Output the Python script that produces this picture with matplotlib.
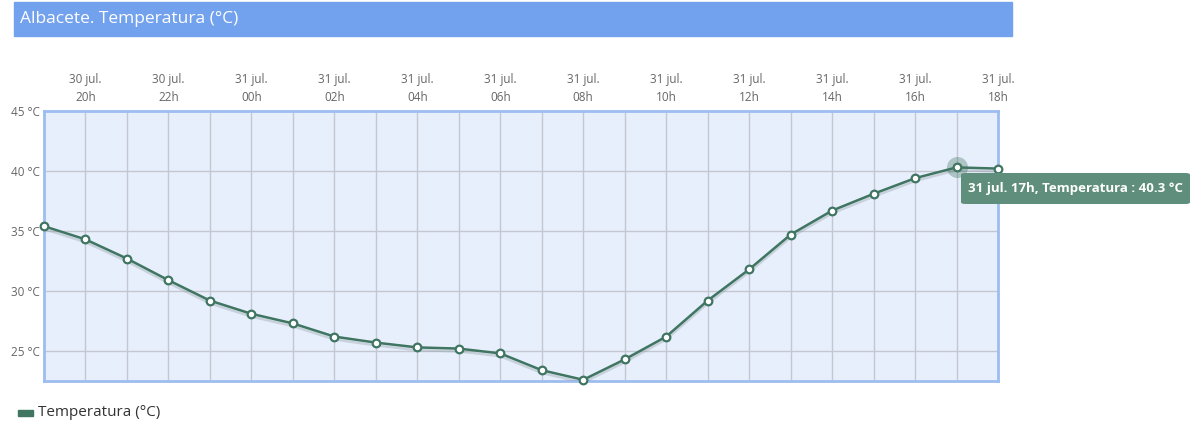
"""Albacete temperature, last 24 h (line chart with tooltip)."""

import numpy as np
import matplotlib
matplotlib.use("Agg")
import matplotlib.pyplot as plt
import matplotlib.patheffects as pe
from matplotlib.patches import Rectangle, FancyBboxPatch

plt.rcParams["font.family"] = ["Open Sans", "DejaVu Sans"]

# ── data ────────────────────────────────────────────────────────────────
HOURS = ["19h", "20h", "21h", "22h", "23h", "00h", "01h", "02h", "03h", "04h",
         "05h", "06h", "07h", "08h", "09h", "10h", "11h", "12h", "13h", "14h",
         "15h", "16h", "17h", "18h"]
DAYS = ["30 jul."] * 5 + ["31 jul."] * 19
TEMPS = [35.4, 34.3, 32.7, 30.9, 29.2, 28.1, 27.3, 26.2, 25.7, 25.3,
         25.2, 24.8, 23.4, 22.6, 24.3, 26.2, 29.2, 31.8, 34.7, 36.7,
         38.1, 39.4, 40.3, 40.2]
Y_TICKS = [25, 30, 35, 40, 45]
HILITE = 22  # index of the hovered point (17h)

LINE = "#3f7561"
PLOT_BG = "#e8effc"
BORDER = "#9dbdf0"
GRID = "#c3c7d1"
TEXT = "#666666"
TITLE_BG = "#72a1ee"
TIP_BG = "#5f8f7c"

fig = plt.figure(figsize=(12, 4.21), dpi=100)
W, H = 1200, 421

# title bar
fig.patches.append(Rectangle((14 / W, 1 - 36 / H), 998 / W, 34 / H,
                             transform=fig.transFigure, color=TITLE_BG, zorder=0))
fig.text(20 / W, 1 - 19 / H, "Albacete. Temperatura (°C)", color="white",
         fontsize=12.5, va="center", ha="left")

ax = fig.add_axes([44 / W, 40 / H, 954 / W, 270 / H])
ax.set_facecolor(PLOT_BG)
x = np.arange(len(TEMPS))

ax.plot(x, TEMPS, color=LINE, lw=1.8, zorder=3,
        path_effects=[pe.SimpleLineShadow(offset=(0, -2), shadow_color="#8a9aa0",
                                           alpha=0.35), pe.Normal()])
ax.scatter(x[HILITE], TEMPS[HILITE], s=230, color=LINE, alpha=0.35,
           lw=0, zorder=4, clip_on=False)
ax.plot(x, TEMPS, ls="none", marker="o", ms=5.5, mfc="white", mec=LINE,
        mew=1.6, zorder=5, clip_on=False)

ax.set_xlim(0, len(TEMPS) - 1)
ax.set_ylim(22.5, 45)
ax.set_xticks(x, minor=True)
ax.set_xticks(x[1::2])
ax.set_xticklabels([f"{d}\n{h}" for d, h in zip(DAYS[1::2], HOURS[1::2])],
                   color=TEXT, fontsize=8.5, linespacing=1.55)
ax.xaxis.tick_top()
ax.set_yticks(Y_TICKS)
ax.set_yticklabels([f"{t} °C" for t in Y_TICKS], color=TEXT, fontsize=8.5)
ax.tick_params(axis="x", which="both", length=0, pad=5)
ax.tick_params(axis="y", length=0, pad=3)
ax.grid(True, which="both", axis="x", color=GRID, lw=1)
ax.grid(True, axis="y", color=GRID, lw=1)
ax.set_axisbelow(True)
for s in ax.spines.values():
    s.set_color(BORDER)
    s.set_linewidth(2)

# tooltip
tip = FancyBboxPatch((961 / W, 1 - 204 / H), 229 / W, 31 / H,
                     boxstyle="round,pad=0,rounding_size=0.004",
                     transform=fig.transFigure, facecolor=TIP_BG,
                     edgecolor="none", zorder=10)
fig.patches.append(tip)
fig.text(1075 / W, 1 - 188.5 / H,
         f"31 jul. {HOURS[HILITE]}, Temperatura : {TEMPS[HILITE]} °C",
         color="white", fontsize=9.5, fontweight="bold", ha="center",
         va="center", zorder=11)

# legend
fig.patches.append(Rectangle((18 / W, 1 - 416 / H), 15 / W, 6 / H,
                             transform=fig.transFigure, color=LINE))
fig.text(38 / W, 1 - 412 / H, "Temperatura (°C)", color="#333333",
         fontsize=11, va="center", ha="left")

fig.savefig("out.png", dpi=100)
